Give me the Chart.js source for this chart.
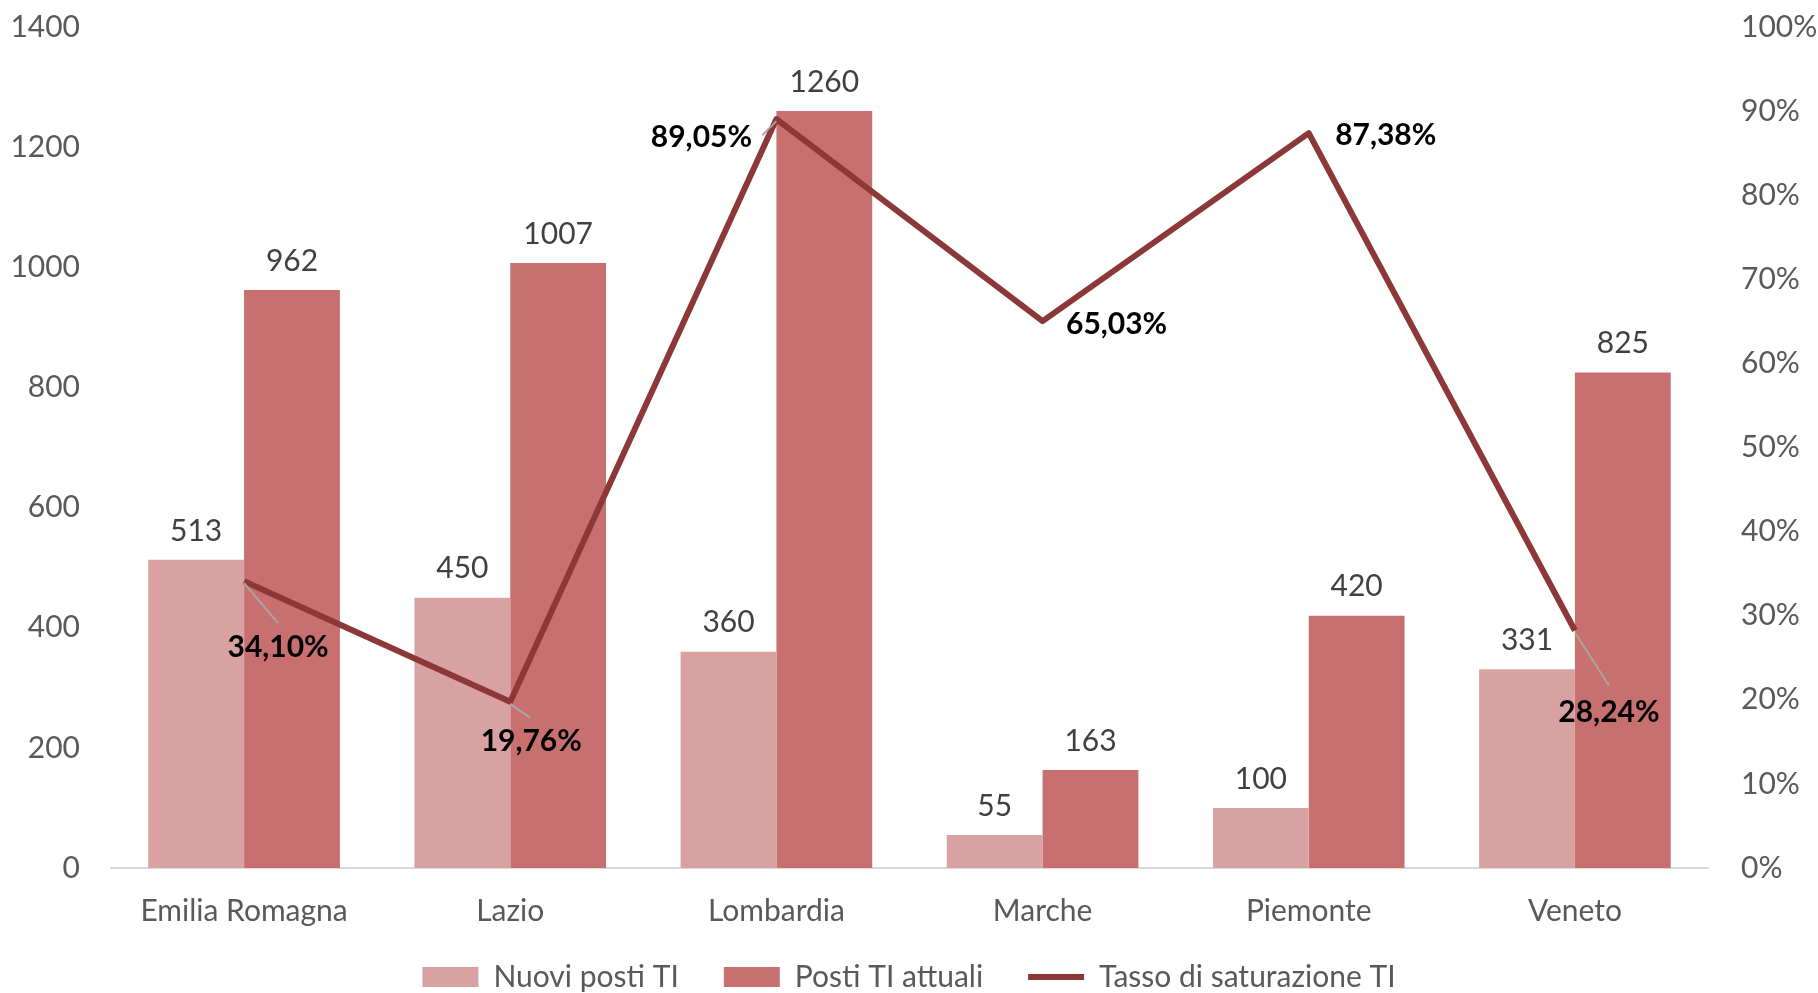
<!DOCTYPE html>
<html lang="it">
<head>
<meta charset="utf-8">
<title>Posti TI per regione</title>
<script src="https://cdn.jsdelivr.net/npm/chart.js@4.4.1/dist/chart.umd.min.js"></script>
<style>
    html, body { margin: 0; padding: 0; background: #fff; }
    #contenitore { width: 1818px; height: 993px; }
</style>
</head>
<body>
<div id="contenitore"><canvas id="graficoTI"></canvas></div>
<script>
// Dati
const regioni = ['Emilia Romagna', 'Lazio', 'Lombardia', 'Marche', 'Piemonte', 'Veneto'];
const nuoviPosti = [513, 450, 360, 55, 100, 331];
const postiAttuali = [962, 1007, 1260, 163, 420, 825];
const tassoSaturazione = [0.3410, 0.1976, 0.8905, 0.6503, 0.8738, 0.2824];
const tickSinistra = [0, 200, 400, 600, 800, 1000, 1200, 1400];

// Colori
const coloreNuovi = '#D9A2A2';
const coloreAttuali = '#C87070';
const coloreLinea = '#8C3838';
const coloreTesto = '#595959';

// Posizione etichette del tasso rispetto al punto (dx, dy) + eventuale linea guida
const posEtichette = [
    { dx: 34, dy: 66, guida: [34, 42] },
    { dx: 21, dy: 40, guida: [20, 16] },
    { dx: -75, dy: 18, guida: [-14, 16] },
    { dx: 74, dy: 3, guida: null },
    { dx: 77, dy: 2, guida: null },
    { dx: 34, dy: 82, guida: [34, 55] }
];

function formatoPercento(v) {
    return (v * 100).toFixed(2).replace('.', ',') + '%';
}

// Etichette dati disegnate a mano (niente plugin datalabels)
const pluginEtichette = {
    id: 'etichette',
    afterDatasetsDraw(chart) {
        const ctx = chart.ctx;
        ctx.save();
        ctx.textAlign = 'center';
        ctx.textBaseline = 'middle';

        // valori sopra le barre
        ctx.font = '30px Lato';
        ctx.fillStyle = '#404040';
        [0, 1].forEach(di => {
            const meta = chart.getDatasetMeta(di);
            const valori = chart.data.datasets[di].data;
            meta.data.forEach((barra, i) => {
                ctx.fillText(String(valori[i]), barra.x, barra.y - 29);
            });
        });

        // tasso di saturazione
        const metaLinea = chart.getDatasetMeta(2);
        metaLinea.data.forEach((punto, i) => {
            const pos = posEtichette[i];
            if (pos.guida) {
                ctx.strokeStyle = '#A6A6A6';
                ctx.lineWidth = 2;
                ctx.beginPath();
                ctx.moveTo(punto.x, punto.y + 2);
                ctx.lineTo(punto.x + pos.guida[0], punto.y + pos.guida[1]);
                ctx.stroke();
            }
        });
        ctx.font = 'bold 30px Lato';
        ctx.fillStyle = '#000';
        metaLinea.data.forEach((punto, i) => {
            const pos = posEtichette[i];
            ctx.fillText(formatoPercento(tassoSaturazione[i]), punto.x + pos.dx, punto.y + pos.dy);
        });
        ctx.restore();
    }
};

// Altezza e posizione fisse della legenda
const pluginLegenda = {
    id: 'posizioneLegenda',
    beforeInit(chart) {
        const fitOrig = chart.legend.fit;
        chart.legend.fit = function () {
            fitOrig.call(this);
            this.height = 64;
        };
    },
    afterLayout(chart) {
        const leg = chart.legend;
        leg.top = 917;
        leg.bottom = 993;
        leg.height = 76;
    }
};

// gli assi verticali non devono aggiungere spazio sopra/sotto
function fissaAsseY(larghezza) {
    return function (scale) {
        scale.width = larghezza;
        scale.paddingTop = 27;
        scale.paddingBottom = 0;
    };
}

Chart.defaults.font.family = 'Lato';
Chart.defaults.font.size = 30;
Chart.defaults.color = coloreTesto;

const ctx = document.getElementById('graficoTI').getContext('2d');
new Chart(ctx, {
    type: 'bar',
    data: {
        labels: regioni,
        datasets: [{
            label: 'Nuovi posti TI',
            data: nuoviPosti,
            backgroundColor: coloreNuovi,
            yAxisID: 'y',
            order: 1,
            categoryPercentage: 0.72,
            barPercentage: 1.0
        }, {
            label: 'Posti TI attuali',
            data: postiAttuali,
            backgroundColor: coloreAttuali,
            yAxisID: 'y',
            order: 1,
            categoryPercentage: 0.72,
            barPercentage: 1.0
        }, {
            type: 'line',
            label: 'Tasso di saturazione TI',
            data: tassoSaturazione,
            borderColor: coloreLinea,
            backgroundColor: coloreLinea,
            borderWidth: 6,
            borderJoinStyle: 'round',
            pointRadius: 0,
            tension: 0,
            yAxisID: 'y1',
            order: 0
        }]
    },
    options: {
        responsive: true,
        maintainAspectRatio: false,
        animation: false,
        layout: { padding: { top: 0, left: 0, right: 0, bottom: 0 } },
        plugins: {
            tooltip: { enabled: false },
            legend: {
                position: 'bottom',
                labels: {
                    usePointStyle: true,
                    pointStyleWidth: 56,
                    boxHeight: 20,
                    padding: 45,
                    color: coloreTesto,
                    font: { size: 30 },
                    sort: (a, b) => a.datasetIndex - b.datasetIndex,
                    generateLabels(chart) {
                        const base = Chart.defaults.plugins.legend.labels.generateLabels(chart);
                        return base.map(item => {
                            if (item.datasetIndex === 2) {
                                item.pointStyle = 'line';
                                item.strokeStyle = coloreLinea;
                                item.lineWidth = 6;
                            } else {
                                item.pointStyle = 'rect';
                                item.lineWidth = 0;
                            }
                            return item;
                        });
                    }
                }
            }
        },
        scales: {
            x: {
                grid: { display: false, drawTicks: false },
                border: { display: true, color: '#D9D9D9', width: 2 },
                ticks: { padding: 25, color: coloreTesto },
                afterFit(scale) { scale.height = 61; }
            },
            y: {
                position: 'left',
                min: 0,
                max: 1400,
                grid: { display: false, drawTicks: false },
                border: { display: false },
                afterBuildTicks(scale) {
                    scale.ticks = tickSinistra.map(v => ({ value: v }));
                },
                ticks: { padding: 31, color: coloreTesto, callback: v => String(v) },
                afterFit: fissaAsseY(111)
            },
            y1: {
                position: 'right',
                min: 0,
                max: 1,
                grid: { display: false, drawTicks: false },
                border: { display: false },
                ticks: {
                    stepSize: 0.1,
                    padding: 33,
                    color: coloreTesto,
                    callback: v => Math.round(v * 100) + '%'
                },
                afterFit: fissaAsseY(110)
            }
        }
    },
    plugins: [pluginEtichette, pluginLegenda]
});
</script>
</body>
</html>
